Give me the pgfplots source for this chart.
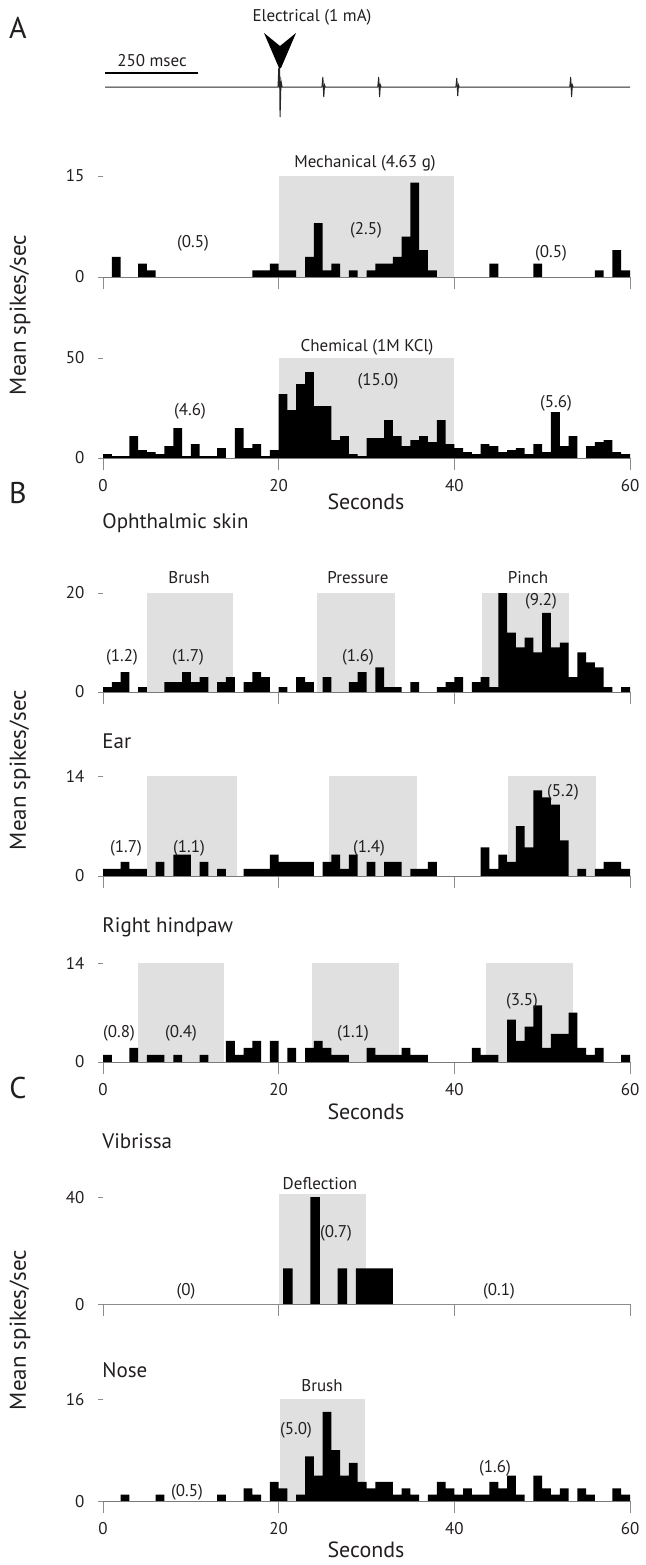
\documentclass[border=0pt]{standalone}
\usepackage{pgfplots}
\pgfplotsset{compat=1.18}
\usepackage{fontspec}
\setmainfont{PT Sans}
\definecolor{shade}{RGB}{224,224,224}
\definecolor{txt}{RGB}{35,31,32}
\definecolor{axgray}{RGB}{140,140,140}
\newcommand{\fs}[1]{\fontsize{#1bp}{#1bp}\selectfont}

\pgfplotsset{
  hist/.style={
    scale only axis, width=263.5bp,
    xmin=0, xmax=60, ymin=0,
    axis x line*=bottom, axis y line*=left,
    y axis line style={draw=none},
    x axis line style={axgray, line width=0.5pt, -},
    xtick={0,20,40,60},
    tick align=outside,
    xtick style={axgray, line width=0.5pt, /pgfplots/major tick length=6bp},
    ytick style={axgray, line width=0.5pt, /pgfplots/major tick length=2.5bp},
    tick label style={font=\fs{8.5}, text=txt},
    /pgf/number format/assume math mode=true,
    yticklabel style={xshift=-1.5bp},
    xticklabel style={yshift=-3bp},
    clip=false,
  },
  nonum/.style={xticklabels={}},
  bars/.style={ybar interval, fill=black, draw=none},
  stim/.style={fill=shade, draw=none},
}

\begin{document}
\begin{tikzpicture}
\begin{scope}[x=0.5bp, y=-0.5bp]
\useasboundingbox (0,0) rectangle (641,1565);
\end{scope}

% ---- top trace (electrical)
\begin{axis}[at={(52.5bp,-61bp)}, anchor=south west, scale only axis,
  width=262.5bp, height=30bp, xmin=0, xmax=1411, ymin=-35, ymax=25,
  axis lines=none, clip=false]
\addplot[black!85, line width=0.5pt] coordinates {
 (0,0)(465,0)(467,19)(468,0)(469,19)(470.5,-30)(473,6)(476,0)
 (583,0)(585.5,10)(588,-10)(590,2)(592,0)
 (733,0)(735.5,10)(738,-10)(740,2)(742,0)
 (943,0)(945.5,9)(948,-9)(950,2)(952,0)
 (1249,0)(1251.5,10)(1254,-10)(1256,2)(1258,0)(1411,0)};
\addplot[black, line width=0.6pt] coordinates {(0,14)(250,14)};
\end{axis}

% ---- A: mechanical
\begin{axis}[hist, nonum, at={(51.5bp,-138.5bp)}, anchor=south west,
  height=50.5bp, ymax=15, ytick={0,15}]
\addplot[stim] coordinates {(20,15)(40,15)} \closedcycle;
\addplot[bars] coordinates {(0,0)(1,3)(2,0)(4,2)(5,1)(6,0)(17,1)(18,1)(19,2)(20,1)(21,1)(22,0)(23,3)(24,8)(25,1)(26,2)(27,0)(28,1)(29,0)(30,1)(31,2)(32,2)(33,3)(34,6)(35,14)(36,4)(37,1)(38,0)(44,2)(45,0)(49,2)(50,0)(56,1)(57,0)(58,4)(59,1)(60,0)};
\end{axis}

% ---- A: chemical
\begin{axis}[hist, at={(51.5bp,-229bp)}, anchor=south west,
  height=50bp, ymax=50, ytick={0,50}]
\addplot[stim] coordinates {(20,50)(40,50)} \closedcycle;
\addplot[bars] coordinates {(0,2)(1,1)(2,1)(3,11)(4,4)(5,3)(6,2)(7,6)(8,15)(9,1)(10,7)(11,1)(12,1)(13,5)(14,0)(15,15)(16,5)(17,7)(18,1)(19,4)(20,32)(21,24)(22,37)(23,43)(24,26)(25,26)(26,9)(27,11)(28,2)(29,1)(30,10)(31,10)(32,19)(33,11)(34,6)(35,9)(36,11)(37,8)(38,19)(39,7)(40,5)(41,3)(42,2)(43,7)(44,6)(45,3)(46,4)(47,5)(48,2)(49,7)(50,3)(51,23)(52,6)(53,11)(54,0)(55,6)(56,8)(57,9)(58,3)(59,2)(60,0)};
\end{axis}

% ---- B: ophthalmic skin
\begin{axis}[hist, nonum, at={(51.5bp,-346bp)}, anchor=south west,
  height=49.5bp, ymax=20, ytick={0,20}]
\addplot[stim] coordinates {(5,20)(14.8,20)} \closedcycle;
\addplot[stim] coordinates {(24.4,20)(33.2,20)} \closedcycle;
\addplot[stim] coordinates {(43.2,20)(53.1,20)} \closedcycle;
\addplot[bars] coordinates {(0,1)(1,2)(2,4)(3,0)(4,1)(5,0)(7,2)(8,2)(9,4)(10,2)(11,3)(12,0)(13,2)(14,3)(15,0)(16,2)(17,4)(18,3)(19,0)(20,1)(21,0)(22,3)(23,2)(24,0)(25,3)(26,0)(28,2)(29,4)(30,0)(31,5)(32,1)(33,1)(34,0)(35,2)(36,0)(38,1)(39,2)(40,3)(41,0)(42,2)(43,3)(44,1)(45,20)(46,12)(47,9)(48,11)(49,8)(50,16)(51,9)(52,10)(53,3)(54,8)(55,6)(56,5)(57,1)(58,0)(59,1)(60,0)};
\end{axis}

% ---- B: ear
\begin{axis}[hist, nonum, at={(51.5bp,-438bp)}, anchor=south west,
  height=50bp, ymax=14, ytick={0,14}]
\addplot[stim] coordinates {(5,14)(15.2,14)} \closedcycle;
\addplot[stim] coordinates {(25.7,14)(35.8,14)} \closedcycle;
\addplot[stim] coordinates {(46.1,14)(56.1,14)} \closedcycle;
\addplot[bars] coordinates {(0,1)(1,1)(2,2)(3,1)(4,1)(5,0)(6,2)(7,0)(8,3)(9,3)(10,0)(11,2)(12,0)(13,1)(14,0)(16,1)(17,1)(18,1)(19,3)(20,2)(21,2)(22,2)(23,2)(24,0)(25,2)(26,3)(27,1)(28,3)(29,0)(30,2)(31,0)(32,2)(33,2)(34,0)(35,1)(36,1)(37,2)(38,0)(43,4)(44,1)(45,3)(46,2)(47,7)(48,4)(49,12)(50,11)(51,10)(52,5)(53,0)(54,1)(55,0)(56,1)(57,2)(58,2)(59,1)(60,0)};
\end{axis}

% ---- B: right hindpaw
\begin{axis}[hist, at={(51.5bp,-531bp)}, anchor=south west,
  height=49.5bp, ymax=14, ytick={0,14}]
\addplot[stim] coordinates {(4,14)(13.8,14)} \closedcycle;
\addplot[stim] coordinates {(23.8,14)(33.7,14)} \closedcycle;
\addplot[stim] coordinates {(43.6,14)(53.5,14)} \closedcycle;
\addplot[bars] coordinates {(0,1)(1,0)(3,2)(4,0)(5,1)(6,1)(7,0)(8,1)(9,0)(11,1)(12,0)(14,3)(15,1)(16,2)(17,3)(18,0)(19,3)(20,0)(21,2)(22,0)(23,2)(24,3)(25,2)(26,1)(27,1)(28,0)(30,2)(31,1)(32,1)(33,1)(34,2)(35,1)(36,1)(37,0)(42,2)(43,1)(44,1)(45,0)(46,6)(47,3)(48,5)(49,8)(50,2)(51,4)(52,4)(53,7)(54,2)(55,1)(56,2)(57,0)(59,1)(60,0)};
\end{axis}

% ---- C: vibrissa
\begin{axis}[hist, nonum, at={(51.5bp,-652bp)}, anchor=south west,
  height=53.5bp, ymax=40, ytick={0,40}]
\addplot[stim] coordinates {(20,41)(29.9,41)} \closedcycle;
\addplot[bars] coordinates {(20.5,13.3)(21.6,0)(23.6,40)(24.7,0)(26.7,13.3)(27.8,0)(28.8,13.3)(33,0)};
\end{axis}

% ---- C: nose
\begin{axis}[hist, at={(51.5bp,-750.5bp)}, anchor=south west,
  height=51bp, ymax=16, ytick={0,16}]
\addplot[stim] coordinates {(20.2,16)(29.8,16)} \closedcycle;
\addplot[bars] coordinates {(0,0)(2,1)(3,0)(6,1)(7,0)(13,1)(14,0)(16,2)(17,1)(18,0)(19,3)(20,2)(21,0)(22,1)(23,7)(24,4)(25,14)(26,8)(27,4)(28,6)(29,3)(30,2)(31,3)(32,3)(33,1)(34,2)(35,1)(36,0)(37,1)(38,3)(39,2)(40,1)(41,2)(42,1)(43,1)(44,3)(45,2)(46,4)(47,1)(48,0)(49,4)(50,2)(51,1)(52,2)(53,0)(54,2)(55,1)(56,0)(58,2)(59,1)(60,0)};
\end{axis}

% ---- text
\begin{scope}[x=0.5bp, y=-0.5bp, every node/.style={text=txt, inner sep=0pt}]
\node[font=\fs{15}] at (18,28) {A};
\node[font=\fs{15}] at (18,493) {B};
\node[font=\fs{15}] at (18,1088) {C};
\node[font=\fs{8.5}] at (312,17) {Electrical (1 mA)};
\node[font=\fs{8.5}] at (152,61) {250 msec};
\fill[black] (264,33) -- (280,46) -- (296,33) -- (281,68) -- (279,68) -- cycle;
\node[font=\fs{8.5}] at (365,163) {Mechanical (4.63 g)};
\node[font=\fs{8.5}] at (193,243) {(0.5)};
\node[font=\fs{8.5}] at (366,230) {(2.5)};
\node[font=\fs{8.5}] at (551,253) {(0.5)};
\node[font=\fs{8.5}] at (367,347) {Chemical (1M KCl)};
\node[font=\fs{8.5}] at (190,411) {(4.6)};
\node[font=\fs{8.5}] at (378,381) {(15.0)};
\node[font=\fs{8.5}] at (556,403) {(5.6)};
\node[font=\fs{11}] at (366,502) {Seconds};
\node[font=\fs{11.5}, rotate=90] at (20,315) {Mean spikes/sec};
\node[font=\fs{10.5}, anchor=west] at (102,523) {Ophthalmic skin};
\node[font=\fs{8.5}] at (189,578) {Brush};
\node[font=\fs{8.5}] at (358,578) {Pressure};
\node[font=\fs{8.5}] at (528,578) {Pinch};
\node[font=\fs{8.5}] at (122,657) {(1.2)};
\node[font=\fs{8.5}] at (188,657) {(1.7)};
\node[font=\fs{8.5}] at (358,657) {(1.6)};
\node[font=\fs{8.5}] at (541,601) {(9.2)};
\node[font=\fs{10.5}, anchor=west] at (102,741) {Ear};
\node[font=\fs{8.5}] at (126,848) {(1.7)};
\node[font=\fs{8.5}] at (189,848) {(1.1)};
\node[font=\fs{8.5}] at (369,848) {(1.4)};
\node[font=\fs{8.5}] at (563,792) {(5.2)};
\node[font=\fs{10.5}, anchor=west] at (102,927) {Right hindpaw};
\node[font=\fs{8.5}] at (119,1033) {(0.8)};
\node[font=\fs{8.5}] at (181,1033) {(0.4)};
\node[font=\fs{8.5}] at (353,1033) {(1.1)};
\node[font=\fs{8.5}] at (522,1001) {(3.5)};
\node[font=\fs{11}] at (366,1112) {Seconds};
\node[font=\fs{11.5}, rotate=90] at (20,770) {Mean spikes/sec};
\node[font=\fs{10.5}, anchor=west] at (102,1141) {Vibrissa};
\node[font=\fs{8.5}] at (320,1184) {Deflection};
\node[font=\fs{8.5}] at (186,1291) {(0)};
\node[font=\fs{8.5}] at (336,1233) {(0.7)};
\node[font=\fs{8.5}] at (499,1291) {(0.1)};
\node[font=\fs{10.5}, anchor=west] at (102,1370) {Nose};
\node[font=\fs{8.5}] at (322,1386) {Brush};
\node[font=\fs{8.5}] at (296,1430) {(5.0)};
\node[font=\fs{8.5}] at (187,1492) {(0.5)};
\node[font=\fs{8.5}] at (495,1468) {(1.6)};
\node[font=\fs{11}] at (366,1550) {Seconds};
\node[font=\fs{11.5}, rotate=90] at (20,1330) {Mean spikes/sec};
\end{scope}
\end{tikzpicture}
\end{document}
